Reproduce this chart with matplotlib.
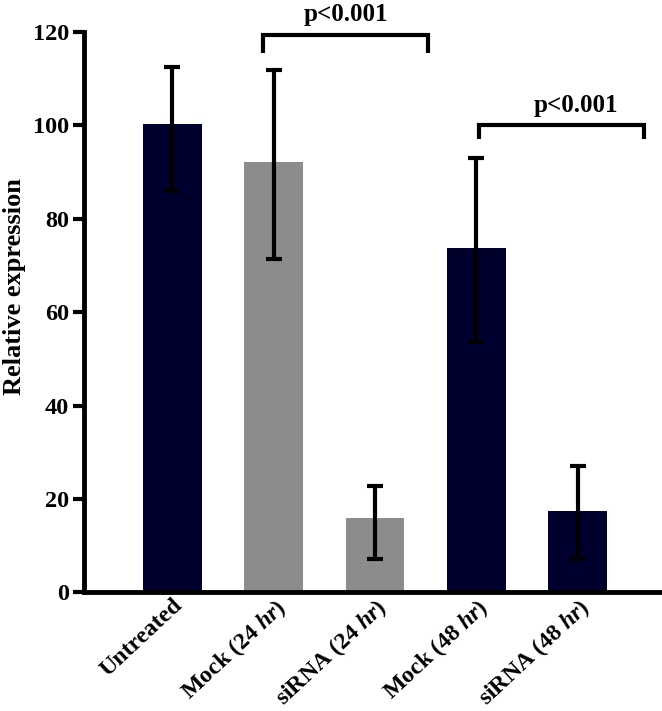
import matplotlib
matplotlib.use("Agg")
import matplotlib.pyplot as plt
import matplotlib.transforms as mtransforms

plt.rcParams['font.family'] = ['Liberation Serif', 'DejaVu Serif']
plt.rcParams['font.weight'] = 'bold'
plt.rcParams['mathtext.fontset'] = 'custom'
plt.rcParams['mathtext.it'] = 'Liberation Serif:italic:bold'
plt.rcParams['mathtext.rm'] = 'Liberation Serif:bold'

categories = ["Untreated", r"Mock (24 $\mathit{hr}$)", r"siRNA (24 $\mathit{hr}$)",
              r"Mock (48 $\mathit{hr}$)", r"siRNA (48 $\mathit{hr}$)"]
values = [100.2, 92.2, 15.9, 73.8, 17.4]
err_upper = [112.4, 111.9, 22.7, 93.1, 27.0]
err_lower = [85.9, 71.4, 7.2, 53.5, 7.2]
colors = ["#00002E", "#8C8C8C", "#8C8C8C", "#00002E", "#00002E"]
yticks = [0, 20, 40, 60, 80, 100, 120]
# significance brackets: (x_left, x_right, y_top, y_drop, text_x, label)
brackets = [(0.89, 2.52, 119.4, 115.5, 1.71, "p<0.001"),
            (3.02, 4.65, 100.1, 97.0, 3.98, "p<0.001")]

fig = plt.figure(figsize=(6.62, 7.11), dpi=100)
ax = fig.add_axes([0.127, 0.167, 0.87, 0.788])

x = list(range(len(values)))
ax.bar(x, values, width=0.58, color=colors, zorder=1)
yerr = [[v - l for v, l in zip(values, err_lower)],
        [u - v for v, u in zip(values, err_upper)]]
ax.errorbar(x, values, yerr=yerr, fmt='none', ecolor='black', elinewidth=3,
            capsize=6, capthick=3, zorder=2)

for xl, xr, yt, yd, tx, lab in brackets:
    ax.plot([xl, xl, xr, xr], [yd, yt, yt, yd], color='black', lw=3,
            clip_on=False, solid_capstyle='butt', solid_joinstyle='miter')
    ax.text(tx, yt + 1.8, lab, ha='center', va='bottom', fontsize=18,
            fontweight='bold', clip_on=False)

ax.set_xlim(-0.87, 4.81)
ax.set_ylim(0, 120)
ax.set_yticks(yticks)
ax.set_yticklabels([str(t) for t in yticks], fontsize=17.5, fontweight='bold')
ax.set_xticks(x)
ax.set_xticklabels(categories, rotation=43, ha='right', rotation_mode='anchor',
                   fontsize=17.2, fontweight='bold')
offset = mtransforms.ScaledTranslation(20 / 100, 0, fig.dpi_scale_trans)
for lbl in ax.get_xticklabels():
    lbl.set_transform(lbl.get_transform() + offset)
ax.tick_params(axis='x', length=0, pad=2)
ax.tick_params(axis='y', length=8, width=3, pad=3)
for s in ['top', 'right']:
    ax.spines[s].set_visible(False)
for s in ['left', 'bottom']:
    ax.spines[s].set_linewidth(3.5)
ax.set_ylabel("Relative expression", fontsize=19, fontweight='bold')
ax.yaxis.set_label_coords(-0.10, 0.546)

fig.savefig("out.png", dpi=100)
